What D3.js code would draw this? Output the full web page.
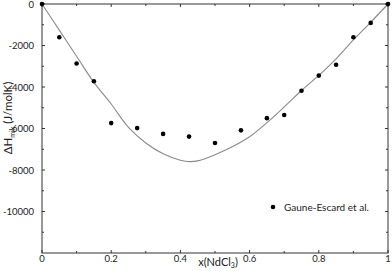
<!DOCTYPE html>
<html><head><meta charset="utf-8">
<script src="https://cdn.jsdelivr.net/npm/d3@7"></script>
<style>body{margin:0;background:#fff}svg{display:block}text{font-family:Lato,"Open Sans","Liberation Sans",sans-serif;fill:#222}</style>
</head><body><div id="c"></div>
<script>
const expX = [0, 0.05, 0.1, 0.15, 0.2, 0.275, 0.35, 0.425, 0.5, 0.575, 0.65, 0.7, 0.75, 0.8, 0.85, 0.9, 0.95, 1];
const expY = [0, -1600, -2870, -3720, -5740, -5980, -6260, -6390, -6700, -6090, -5500, -5350, -4180, -3450, -2930, -1600, -910, 0];
const fitX = [0, 0.05, 0.1, 0.15, 0.2, 0.25, 0.3, 0.35, 0.4, 0.42, 0.45, 0.5, 0.55, 0.6, 0.65, 0.7, 0.75, 0.8, 0.85, 0.9, 0.95, 1];
const fitY = [0, -1260, -2520, -3780, -4820, -5950, -6700, -7220, -7530, -7590, -7560, -7260, -6880, -6400, -5720, -4960, -4170, -3440, -2640, -1730, -880, 0];
const xTicks = [0, 0.2, 0.4, 0.6, 0.8, 1];
const xMinor = [0.1, 0.3, 0.5, 0.7, 0.9];
const yTicks = [0, -2000, -4000, -6000, -8000, -10000];
const yMinor = [-1000, -3000, -5000, -7000, -9000, -11000];
const legendLabel = "Gaune-Escard et al.";

const W = 392, H = 271;
const L = 42, R = 388, T = 4, B = 253;
const svg = d3.select("#c").append("svg").attr("width", W).attr("height", H);
const x = d3.scaleLinear().domain([0, 1]).range([L, R]);
const y = d3.scaleLinear().domain([-12000, 0]).range([B, T]);
const ax = "#333";

svg.append("rect").attr("x", L).attr("y", T).attr("width", R - L).attr("height", B - T)
  .attr("fill", "none").attr("stroke", ax).attr("stroke-width", 1);

function ticksH(vals, len) {
  vals.forEach(v => {
    svg.append("line").attr("x1", x(v)).attr("x2", x(v)).attr("y1", B).attr("y2", B - len).attr("stroke", ax);
    svg.append("line").attr("x1", x(v)).attr("x2", x(v)).attr("y1", T).attr("y2", T + len).attr("stroke", ax);
  });
}
function ticksV(vals, len) {
  vals.forEach(v => {
    svg.append("line").attr("x1", L).attr("x2", L + len).attr("y1", y(v)).attr("y2", y(v)).attr("stroke", ax);
    svg.append("line").attr("x1", R).attr("x2", R - len).attr("y1", y(v)).attr("y2", y(v)).attr("stroke", ax);
  });
}
ticksH(xTicks, 3); ticksH(xMinor, 2);
ticksV(yTicks, 3); ticksV(yMinor, 2);

svg.selectAll(".xl").data(xTicks).enter().append("text")
  .attr("x", d => x(d)).attr("y", 262).attr("text-anchor", "middle")
  .attr("font-size", 9.5).text(d => d3.format("")(d));
svg.selectAll(".yl").data(yTicks).enter().append("text")
  .attr("x", 34).attr("y", d => y(d) + 3.5).attr("text-anchor", "end")
  .attr("font-size", 9.5).text(d => d);

const xt = svg.append("text").attr("x", 218).attr("y", 265.5).attr("text-anchor", "middle").attr("font-size", 11);
xt.append("tspan").text("x(NdCl");
xt.append("tspan").attr("font-size", 7).attr("dy", 2.5).text("3");
xt.append("tspan").attr("dy", -2.5).text(")");

const yt = svg.append("text").attr("transform", "translate(12,118) rotate(-90)").attr("text-anchor", "middle").attr("font-size", 11.5);
yt.append("tspan").text("\u0394H");
yt.append("tspan").attr("font-size", 7).attr("dy", 2.5).text("mix");
yt.append("tspan").attr("dy", -2.5).text(" (J/molK)");

const fit = fitX.map((d, i) => [d, fitY[i]]);
svg.append("path").datum(fit)
  .attr("d", d3.line().x(d => x(d[0])).y(d => y(d[1])).curve(d3.curveCatmullRom))
  .attr("fill", "none").attr("stroke", "#8a8a8a").attr("stroke-width", 1.1);

svg.selectAll(".pt").data(expX.map((d, i) => [d, expY[i]])).enter().append("circle")
  .attr("cx", d => x(d[0])).attr("cy", d => y(d[1])).attr("r", 2.3).attr("fill", "#000");

svg.append("circle").attr("cx", 273).attr("cy", 207).attr("r", 2.3).attr("fill", "#000");
svg.append("text").attr("x", 284).attr("y", 210.5).attr("font-size", 10).text(legendLabel);
</script></body></html>
